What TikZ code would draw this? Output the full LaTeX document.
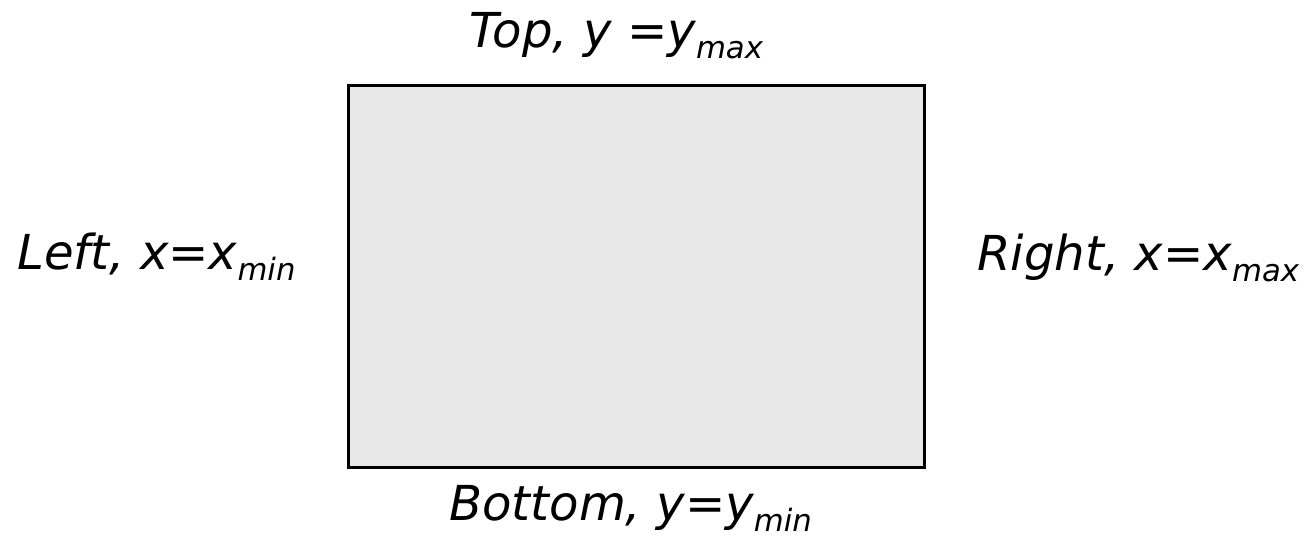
\documentclass[tikz,border=0pt]{standalone}
\usepackage{fontspec}
\setmainfont{DejaVu Sans}
\usepackage{tikz}
\usetikzlibrary{positioning}

% lowered small index after a letter
\newcommand{\lowidx}[1]{\raisebox{-6.8pt}{\fontsize{17.5}{20}\selectfont #1}}

\tikzset{
    edgelabel/.style={font=\fontsize{27.4}{32}\selectfont\itshape, inner sep=0pt, anchor=base west},
    domainbox/.style={draw=black, line width=1.7pt, fill=gray!18}
}

\begin{document}
\begin{tikzpicture}[x=0.02cm, y=-0.02cm]
    \useasboundingbox (0,0) rectangle (1311,538);

    % the region
    \node[domainbox, minimum width=11.54cm, minimum height=7.66cm, inner sep=0pt] (frame) at (636.5,276.5) {};

    % labels on the four sides
    \node[edgelabel] (toplbl) at (469,47) {Top, y =y\lowidx{max}};
    \node[edgelabel] (leftlbl) at (17,269) {Left, x=x\lowidx{min}};
    \node[edgelabel] (rightlbl) at (977,270) {Right, x=x\lowidx{max}};
    \node[edgelabel] (bottomlbl) at (449,520) {Bottom, y=y\lowidx{min}};

\end{tikzpicture}
\end{document}
